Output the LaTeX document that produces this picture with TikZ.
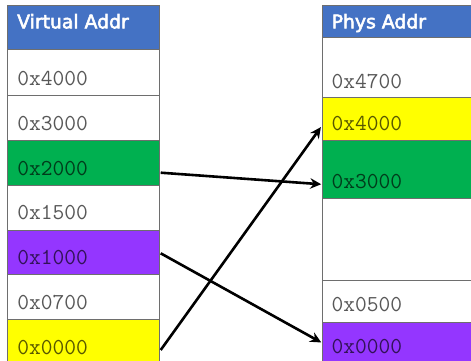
\documentclass[tikz,border=0pt]{standalone}
\usepackage{fontspec}
\newfontfamily\hdrfont{DejaVu Sans}
\newcommand\heavytext[1]{\special{pdf:literal direct 2 Tr 0.55 w}#1\special{pdf:literal direct 0 Tr}}
\usetikzlibrary{arrows.meta,calc}
\definecolor{hdrblue}{HTML}{4472C4}
\definecolor{cgreen}{HTML}{00B050}
\definecolor{cpurple}{HTML}{9436FF}
\definecolor{cyellow}{HTML}{FFFF00}
\definecolor{cline}{HTML}{6E6E6E}
\tikzset{
  cell/.style={draw=cline, line width=0.9pt, rectangle, inner sep=0pt, anchor=north west, minimum width=152pt},
  hdrtext/.style={anchor=base west, inner sep=0pt, text=white, font=\hdrfont\fontsize{18.8}{19}\selectfont},
  addr/.style={anchor=base west, inner sep=0pt, text=black, text opacity=0.66, font=\ttfamily\fontsize{22.8}{23}\selectfont},
  maparrow/.style={line width=2.6pt, -{Stealth[length=11pt,width=10.5pt]}, shorten >=0.5pt},
}
\begin{document}
\begin{tikzpicture}[x=1pt,y=1pt]
\useasboundingbox (0,0) rectangle (471,-361);
% left column (virtual)
\node[cell, fill=hdrblue, minimum height=44pt] (vh) at (7.3,-5.3) {};
\node[cell, fill=white, minimum height=46pt] (v4000) at (7.3,-49.3) {};
\node[cell, fill=white, minimum height=45pt] (v3000) at (7.3,-95.3) {};
\node[cell, fill=cgreen, minimum height=45pt] (v2000) at (7.3,-140.3) {};
\node[cell, fill=white, minimum height=44.5pt] (v1500) at (7.3,-185.3) {};
\node[cell, fill=cpurple, minimum height=44.5pt] (v1000) at (7.3,-229.8) {};
\node[cell, fill=white, minimum height=45pt] (v0700) at (7.3,-274.3) {};
\node[cell, fill=cyellow, minimum height=45pt] (v0000) at (7.3,-319.3) {};
% right column (physical)
\node[cell, fill=hdrblue, minimum height=32pt] (ph) at (321.7,-5.3) {};
\node[cell, fill=white, minimum height=60pt] (p4700) at (321.7,-37.3) {};
\node[cell, fill=cyellow, minimum height=42.2pt] (p4000) at (321.7,-97.3) {};
\node[cell, fill=cgreen, minimum height=58.5pt] (p3000) at (321.7,-139.5) {};
\node[cell, fill=white, minimum height=82pt] (pfree) at (321.7,-198) {};
\node[cell, fill=white, minimum height=42pt] (p0500) at (321.7,-280) {};
\node[cell, fill=cpurple, minimum height=42pt] (p0000) at (321.7,-322) {};
% headers
\node[hdrtext] (vht) at (17,-28.3) {\heavytext{Virtual Addr}};
\node[hdrtext] (pht) at (331.5,-28.3) {\heavytext{Phys Addr}};
% address labels
\node[addr] (t1) at ($(v4000.south west)+(9.8,11)$) {0x4000};
\node[addr] (t2) at ($(v3000.south west)+(9.8,11)$) {0x3000};
\node[addr] (t3) at ($(v2000.south west)+(9.8,11)$) {0x2000};
\node[addr] (t4) at ($(v1500.south west)+(9.8,11)$) {0x1500};
\node[addr] (t5) at ($(v1000.south west)+(9.8,11)$) {0x1000};
\node[addr] (t6) at ($(v0700.south west)+(9.8,11)$) {0x0700};
\node[addr] (t7) at ($(v0000.south west)+(9.8,11)$) {0x0000};
\node[addr] (u1) at ($(p4700.south west)+(9.8,10)$) {0x4700};
\node[addr] (u2) at ($(p4000.south west)+(9.8,10)$) {0x4000};
\node[addr] (u3) at ($(p3000.south west)+(9.8,10)$) {0x3000};
\node[addr] (u4) at ($(p0500.south west)+(9.8,11)$) {0x0500};
\node[addr] (u5) at ($(p0000.south west)+(9.8,11)$) {0x0000};
% mapping arrows
\coordinate (a1s) at ($(v2000.north east)+(0.5,-32.4)$);
\coordinate (a1e) at ($(p3000.north west)+(0,-44.8)$);
\coordinate (a2s) at ($(v1000.north east)+(0.5,-23.5)$);
\coordinate (a2e) at ($(p0000.north west)+(0,-20.7)$);
\coordinate (a3s) at ($(v0000.north east)+(0.5,-30.7)$);
\coordinate (a3e) at ($(p4000.north west)+(-0.5,-29.4)$);
\draw[maparrow] (a1s) -- (a1e);
\draw[maparrow] (a2s) -- (a2e);
\draw[maparrow] (a3s) -- (a3e);
\end{tikzpicture}
\end{document}
